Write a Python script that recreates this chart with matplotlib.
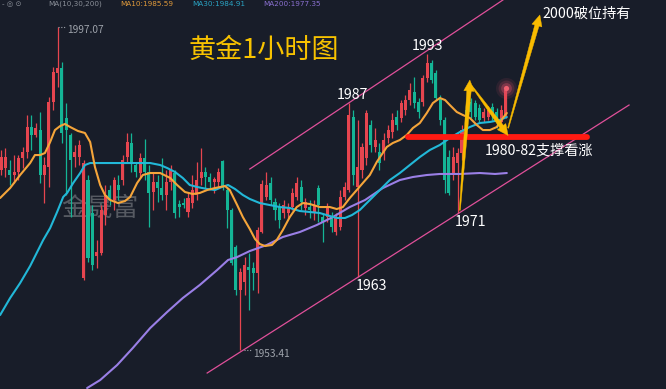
import numpy as np
import matplotlib
matplotlib.use("Agg")
import matplotlib.pyplot as plt
from matplotlib.patches import Polygon
from matplotlib.transforms import IdentityTransform

plt.rcParams['font.family'] = ['Noto Sans CJK SC', 'DejaVu Sans']

# ---------------- data (XAUUSD 1H) ----------------
opens = [1977.7, 1978.0, 1977.7, 1977.1, 1977.5, 1979.4, 1980.2, 1983.5, 1982.5, 1983.1,
         1977.1, 1978.1, 1986.9, 1990.9, 1991.5, 1984.8, 1982.5, 1979.5, 1979.5, 1963.1,
         1976.4, 1971.9, 1966.1, 1966.5, 1971.6, 1975.0, 1973.7, 1975.7, 1976.4, 1979.5,
         1981.4, 1978.4, 1977.3, 1979.4, 1977.5, 1974.8, 1976.1, 1975.3, 1974.4, 1976.1,
         1977.3, 1973.1, 1973.3, 1972.1, 1973.3, 1974.4, 1976.7, 1977.5, 1976.8, 1976.1,
         1976.1, 1978.9, 1975.0, 1972.3, 1967.3, 1961.5, 1962.6, 1964.6, 1964.5, 1963.8,
         1969.4, 1974.1, 1976.0, 1973.4, 1972.7, 1971.9, 1971.9, 1972.7, 1974.1, 1975.4,
         1972.6, 1972.7, 1971.9, 1975.3, 1971.4, 1971.4, 1971.4, 1969.4, 1970.0, 1974.1,
         1975.0, 1984.9, 1975.4, 1977.7, 1979.4, 1983.8, 1980.8, 1980.2, 1980.2, 1982.1,
         1982.9, 1984.9, 1984.8, 1985.9, 1987.2, 1988.3, 1986.9, 1986.9, 1990.2, 1992.2,
         1990.9, 1987.5, 1984.5, 1979.5, 1977.3, 1978.7, 1980.0, 1985.9, 1986.9, 1986.8,
         1986.1, 1984.8, 1984.9, 1986.3, 1985.6, 1984.2, 1984.9]
highs = [1980.4, 1980.7, 1979.1, 1979.8, 1979.8, 1980.9, 1985.2, 1985.2, 1984.1, 1985.6,
         1979.5, 1987.6, 1991.7, 1997.07, 1992.3, 1986.8, 1982.7, 1981.1, 1981.8, 1979.1,
         1977.1, 1973.0, 1968.3, 1973.0, 1975.7, 1975.7, 1976.8, 1977.1, 1979.8, 1982.7,
         1982.7, 1978.8, 1980.0, 1981.9, 1978.4, 1977.3, 1977.1, 1979.4, 1977.7, 1978.4,
         1977.7, 1973.7, 1974.0, 1974.8, 1977.1, 1978.8, 1980.7, 1978.1, 1977.3, 1976.8,
         1978.0, 1979.1, 1975.4, 1972.6, 1967.6, 1964.5, 1966.0, 1966.5, 1965.3, 1970.0,
         1976.4, 1977.5, 1976.8, 1974.0, 1973.3, 1973.7, 1973.3, 1975.3, 1976.8, 1976.4,
         1974.0, 1973.7, 1973.7, 1975.7, 1971.9, 1973.3, 1972.1, 1971.9, 1975.0, 1976.1,
         1986.8, 1985.9, 1984.5, 1981.4, 1985.9, 1984.5, 1983.4, 1981.4, 1982.7, 1983.8,
         1985.4, 1985.9, 1987.2, 1987.9, 1989.5, 1990.3, 1987.5, 1990.6, 1993.4, 1992.6,
         1991.3, 1987.9, 1984.9, 1980.4, 1980.9, 1980.7, 1983.8, 1986.5, 1987.5, 1987.2,
         1986.7, 1986.1, 1986.4, 1986.8, 1986.1, 1986.5, 1988.8]
lows = [1977.1, 1976.8, 1975.7, 1976.0, 1976.4, 1978.0, 1979.4, 1980.4, 1982.2, 1976.0,
        1973.3, 1975.4, 1985.8, 1989.0, 1981.4, 1974.4, 1971.4, 1978.1, 1978.4, 1962.9,
        1965.3, 1964.2, 1964.5, 1966.2, 1970.3, 1973.0, 1972.3, 1973.7, 1975.7, 1978.8,
        1977.5, 1976.8, 1976.8, 1976.4, 1970.0, 1972.3, 1973.4, 1973.7, 1972.3, 1975.0,
        1971.3, 1971.4, 1972.6, 1971.4, 1972.6, 1973.7, 1975.7, 1975.3, 1975.3, 1974.6,
        1975.4, 1975.0, 1969.9, 1964.9, 1960.8, 1953.41, 1960.8, 1958.8, 1961.5, 1961.1,
        1969.2, 1973.7, 1973.0, 1971.0, 1969.9, 1971.3, 1971.3, 1972.3, 1973.7, 1972.3,
        1971.7, 1971.3, 1971.0, 1970.7, 1968.0, 1970.7, 1969.4, 1969.0, 1969.6, 1973.7,
        1974.8, 1975.7, 1963.3, 1976.7, 1978.4, 1980.2, 1980.2, 1977.7, 1979.1, 1981.4,
        1982.1, 1983.1, 1984.2, 1985.2, 1986.5, 1986.1, 1984.8, 1986.4, 1989.6, 1989.5,
        1987.2, 1983.8, 1974.6, 1974.4, 1976.4, 1971.9, 1979.1, 1982.5, 1984.8, 1984.5,
        1984.1, 1984.2, 1984.5, 1984.5, 1983.4, 1983.8, 1984.8]
closes = [1979.5, 1979.5, 1977.1, 1977.5, 1979.4, 1980.2, 1983.5, 1982.5, 1983.4, 1977.1,
          1978.4, 1986.9, 1991.0, 1991.5, 1982.7, 1983.1, 1979.1, 1980.2, 1981.1, 1978.7,
          1965.8, 1964.9, 1966.6, 1972.3, 1974.4, 1973.7, 1976.4, 1975.0, 1979.1, 1981.5,
          1978.8, 1977.5, 1979.4, 1977.5, 1974.6, 1976.1, 1975.3, 1974.4, 1976.1, 1977.7,
          1971.9, 1972.7, 1973.0, 1974.0, 1975.0, 1976.4, 1977.5, 1976.8, 1976.1, 1976.5,
          1977.5, 1975.4, 1972.3, 1965.2, 1961.5, 1964.0, 1964.9, 1964.2, 1963.8, 1969.6,
          1975.8, 1975.7, 1973.7, 1972.3, 1971.0, 1973.0, 1972.6, 1974.6, 1976.0, 1973.4,
          1973.4, 1972.3, 1973.0, 1973.0, 1970.6, 1972.6, 1970.0, 1971.3, 1974.1, 1975.4,
          1985.2, 1977.1, 1978.1, 1980.8, 1985.4, 1981.1, 1981.8, 1978.7, 1981.8, 1983.1,
          1984.5, 1983.8, 1986.8, 1987.2, 1988.6, 1986.8, 1985.6, 1990.2, 1992.2, 1989.9,
          1987.5, 1984.5, 1976.4, 1974.6, 1979.5, 1980.0, 1983.1, 1983.1, 1985.6, 1984.9,
          1984.5, 1985.6, 1985.9, 1985.2, 1984.2, 1985.9, 1988.6]

# moving averages sampled at bar positions
ma10_x = [-0.2, 2.1, 4.4, 6.7, 7.8, 9.0, 10.1, 11.3, 12.4, 13.6, 14.7, 15.9, 17.7, 19.3, 20.5,
          21.6, 22.8, 23.9, 25.1, 26.9, 28.5, 29.7, 31.3, 32.6, 34.3, 36.6, 38.9, 40.5, 42.3,
          44.1, 45.7, 47.4, 49.2, 51.5, 52.6, 54.3, 55.6, 57.2, 58.4, 59.5, 60.7, 62.3, 63.4,
          64.8, 66.4, 68.0, 69.4, 71.0, 73.3, 75.6, 77.2, 78.6, 80.2, 81.8, 83.2, 84.8, 86.4,
          88.7, 90.1, 91.7, 93.3, 94.7, 96.3, 97.9, 99.3, 100.9, 102.1, 103.2, 104.8, 106.2,
          107.8, 109.4, 110.8, 112.4, 114.0, 115.4, 116.3]
ma10_v = [1973.95, 1975.30, 1977.06, 1978.68, 1979.76, 1979.76, 1980.03, 1981.52, 1983.14,
          1983.68, 1983.96, 1983.55, 1983.01, 1982.74, 1981.52, 1978.14, 1975.71, 1974.36,
          1973.68, 1973.27, 1973.54, 1974.09, 1975.98, 1977.06, 1977.33, 1977.33, 1976.66,
          1975.71, 1974.76, 1974.49, 1974.63, 1975.03, 1975.30, 1975.57, 1975.03, 1973.00,
          1971.38, 1969.76, 1968.41, 1967.73, 1967.46, 1967.60, 1968.27, 1969.62, 1971.38,
          1972.73, 1973.27, 1973.14, 1972.73, 1972.73, 1972.46, 1972.73, 1973.95, 1975.03,
          1975.98, 1977.06, 1978.82, 1980.85, 1981.39, 1981.79, 1982.47, 1983.41, 1984.09,
          1985.44, 1986.79, 1987.47, 1987.20, 1986.52, 1985.58, 1985.17, 1984.77, 1983.82,
          1983.14, 1983.14, 1983.55, 1984.77, 1985.44]
ma30_x = [-0.2, 2.1, 4.4, 6.7, 9.7, 11.3, 12.9, 14.3, 15.2, 16.6, 18.2, 19.3, 20.5, 22.8,
          28.5, 32.0, 34.3, 36.6, 38.2, 40.0, 41.8, 43.4, 45.1, 47.4, 49.2, 50.8, 52.2, 53.8,
          55.6, 57.2, 59.5, 61.8, 64.1, 66.4, 68.7, 71.0, 73.3, 75.6, 77.2, 79.1, 80.7, 82.5,
          84.1, 85.5, 87.1, 89.4, 91.7, 94.0, 96.3, 98.6, 100.9, 103.2, 105.5, 107.8, 110.1,
          112.4, 114.7, 116.3]
ma30_v = [1958.13, 1960.43, 1962.46, 1964.76, 1968.27, 1969.89, 1972.06, 1974.09, 1974.63,
          1975.98, 1977.33, 1978.41, 1978.68, 1978.68, 1978.68, 1978.68, 1978.68, 1978.41,
          1978.01, 1977.47, 1976.66, 1975.71, 1975.44, 1975.17, 1975.03, 1975.44, 1975.71,
          1975.17, 1974.36, 1973.82, 1973.27, 1973.00, 1972.73, 1972.60, 1972.19, 1972.06,
          1971.92, 1971.52, 1971.25, 1971.25, 1971.65, 1972.33, 1973.27, 1974.09, 1975.03,
          1976.38, 1977.33, 1978.41, 1979.49, 1980.44, 1981.12, 1982.06, 1982.87, 1983.55,
          1984.09, 1984.23, 1984.50, 1984.90]
ma200_x = [19.8, 22.8, 26.7, 30.3, 34.3, 38.2, 41.8, 45.7, 49.7, 52.2, 54.3, 57.2, 61.1, 64.8,
           68.7, 72.6, 76.3, 80.2, 83.7, 87.8, 91.7, 94.7, 97.9, 100.9, 105.5, 110.1, 113.6,
           116.3]
ma200_v = [1948.26, 1949.34, 1951.37, 1953.67, 1956.37, 1958.54, 1960.43, 1962.19, 1964.22,
           1965.57, 1965.97, 1966.78, 1967.60, 1968.68, 1969.35, 1970.30, 1971.38, 1972.73,
           1973.68, 1975.30, 1976.38, 1976.79, 1977.06, 1977.20, 1977.20, 1977.33, 1977.20,
           1977.33]

# drawn annotations (bar index, price)
upper_channel = [(57.2, 1977.87), (115.4, 2000.72)]
lower_channel = [(47.4, 1950.29), (144.4, 1986.52)]
support_bar = (93.6, 134.7, 1982.2)
arrows = [((105.5, 1972.3), (107.8, 1989.9)),
          ((108.1, 1989.2), (116.6, 1982.4)),
          ((116.6, 1983.4), (123.9, 1998.7))]

# ---------------- style ----------------
BG = '#181d29'
UP = '#e6454f'
DN = '#14b596'
GOLD = '#f9bb00'

fig = plt.figure(figsize=(6.66, 3.89), dpi=100, facecolor=BG)
ax = fig.add_axes([0, 0, 1, 1])
ax.set_facecolor(BG)
ax.set_xlim(-0.23, 152.9)
ax.set_ylim(1948.13, 2000.72)
ax.axis('off')

o = np.array(opens); h = np.array(highs); l = np.array(lows); c = np.array(closes)
x = np.arange(len(o))
cols = np.where(c >= o, UP, DN)
ax.vlines(x, l, h, colors=cols, linewidth=0.9, zorder=2)
bottom = np.minimum(o, c)
height = np.maximum(np.abs(c - o), 0.15)
ax.bar(x, height, bottom=bottom, width=0.7, color=cols, linewidth=0, zorder=3)

ax.plot(ma200_x, ma200_v, color='#9a7fe6', lw=1.5, zorder=4, solid_capstyle='round')
ax.plot(ma30_x, ma30_v, color='#22b8d8', lw=1.5, zorder=4, solid_capstyle='round')
ax.plot(ma10_x, ma10_v, color='#f5a53a', lw=1.5, zorder=5, solid_capstyle='round')

# channel lines
for seg in (upper_channel, lower_channel):
    ax.plot([seg[0][0], seg[1][0]], [seg[0][1], seg[1][1]], color='#e0509a', lw=0.9, zorder=4)

# support bar
ax.plot([support_bar[0], support_bar[1]], [support_bar[2]] * 2, color='#ff1a12', lw=4.2,
        solid_capstyle='round', zorder=6)

# glow at last bar
gx, gy = x[-1], h[-1]
for s, a in [(230, 0.10), (130, 0.18), (60, 0.35)]:
    ax.scatter([gx], [gy], s=s, color='#e0506a', alpha=a, lw=0, zorder=6)
ax.scatter([gx], [gy], s=14, color='#f06070', lw=0, zorder=7)

# fat tapered arrows, built in pixel space
def fat_arrow(p0, p1):
    t = ax.transData
    a = np.array(t.transform(p0)); b = np.array(t.transform(p1))
    d = b - a; L = np.hypot(*d); u = d / L; n = np.array([-u[1], u[0]])
    hl = 11.0
    base = b - u * hl
    pts = [a + n * 0.5, base + n * 2.2, base + n * 5.2, b, base - n * 5.2, base - n * 2.2, a - n * 0.5]
    poly = Polygon(pts, closed=True, facecolor=GOLD, edgecolor=GOLD, lw=0.3,
                   transform=IdentityTransform(), zorder=8)
    ax.add_artist(poly)

for p0, p1 in arrows:
    fat_arrow(p0, p1)

# text helpers (pixel positions of the 666x389 canvas)
W, H = 666.0, 389.0
def T(px, py, s, **kw):
    ax.text(px / W, 1 - py / H, s, transform=ax.transAxes, **kw)

T(264, 50, '黄金1小时图', color='#f7c200', fontsize=19.5, ha='center', va='center', zorder=9)
T(100, 209, '金晟富', color='#5a5e66', fontsize=18.5, ha='center', va='center', zorder=1, alpha=0.95)
T(587, 14, '2000破位持有', color='white', fontsize=10.2, ha='center', va='center', zorder=9)
T(428, 46, '1993', color='white', fontsize=10.2, ha='center', va='center', zorder=9)
T(352, 95, '1987', color='white', fontsize=10.2, ha='center', va='center', zorder=9)
T(372, 286, '1963', color='white', fontsize=10.2, ha='center', va='center', zorder=9)
T(470, 222, '1971', color='white', fontsize=10.2, ha='center', va='center', zorder=9)
T(539, 150, '1980-82支撑看涨', color='white', fontsize=10.2, ha='center', va='center', zorder=9)
T(67, 30, '1997.07', color='#9ea3ab', fontsize=7.3, ha='left', va='center', zorder=9)
T(253, 354, '1953.41', color='#9ea3ab', fontsize=7.3, ha='left', va='center', zorder=9)
# dotted leaders
ax.plot([13.2, 15.0], [1997.07] * 2, color='#9ea3ab', lw=0.8, ls=(0, (1, 1.5)), zorder=9)
ax.plot([55.8, 57.6], [1953.41] * 2, color='#9ea3ab', lw=0.8, ls=(0, (1, 1.5)), zorder=9)

# header line at the very top (small, kept fully inside the canvas)
for px, s, col in [(2, '- ◎ ⊙', '#8a8f98'), (48, 'MA(10,30,200)', '#8a8f98'),
                   (120, 'MA10:1985.59', '#e09a3a'), (192, 'MA30:1984.91', '#2aa4c4'),
                   (263, 'MA200:1977.35', '#8a70d0')]:
    T(px, 0.6, s, color=col, fontsize=5.2, ha='left', va='top', zorder=9,
      family=['DejaVu Sans'])

fig.savefig('out.png', dpi=100, facecolor=BG)
